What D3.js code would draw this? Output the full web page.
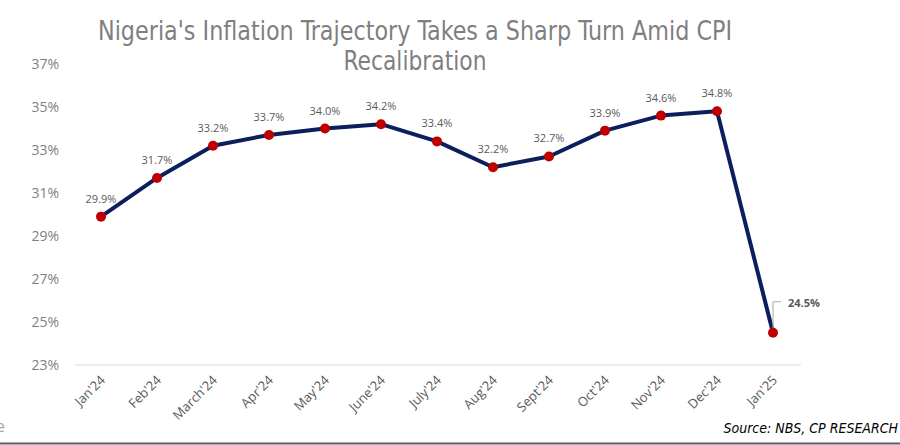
<!DOCTYPE html>
<html>
<head>
<meta charset="utf-8">
<script src="https://cdn.jsdelivr.net/npm/d3@7"></script>
<style>
  body { margin: 0; background: #fff; }
  text { font-family: "Open Sans", "Noto Sans", sans-serif; }
</style>
</head>
<body>
<svg width="900" height="445"></svg>
<script>
// data
var months = ["Jan'24", "Feb'24", "March'24", "Apr'24", "May'24", "June'24", "July'24",
              "Aug'24", "Sept'24", "Oct'24", "Nov'24", "Dec'24", "Jan'25"];
var inflation = [29.9, 31.7, 33.2, 33.7, 34.0, 34.2, 33.4, 32.2, 32.7, 33.9, 34.6, 34.8, 24.5];
var yTicks = [23, 25, 27, 29, 31, 33, 35, 37];

var svg = d3.select("svg");
var margin = {top: 64, right: 99, bottom: 80, left: 73};
var width = 900 - margin.left - margin.right;

var x = d3.scaleBand().domain(months).range([margin.left, margin.left + width]);
var y = d3.scaleLinear().domain([23, 37]).range([365, 64]);
var cx = function(d) { return x(d.m) + x.bandwidth() / 2; };

var narrow = "'Liberation Sans Narrow', 'DejaVu Sans Condensed', sans-serif";

// title
svg.append("text")
  .attr("x", 415).attr("y", 40)
  .attr("text-anchor", "middle")
  .attr("fill", "#7f7f7f")
  .style("font-family", narrow)
  .style("font-size", "26px")
  .attr("textLength", 634).attr("lengthAdjust", "spacingAndGlyphs")
  .text("Nigeria's Inflation Trajectory Takes a Sharp Turn Amid CPI");
svg.append("text")
  .attr("x", 415).attr("y", 70)
  .attr("text-anchor", "middle")
  .attr("fill", "#7f7f7f")
  .style("font-family", narrow)
  .style("font-size", "26px")
  .attr("textLength", 143).attr("lengthAdjust", "spacingAndGlyphs")
  .text("Recalibration");

// y axis labels (no axis line)
svg.selectAll("text.ytick").data(yTicks).enter().append("text")
  .attr("class", "ytick")
  .attr("x", 59).attr("y", function(d) { return y(d) + 5; })
  .attr("text-anchor", "end")
  .attr("fill", "#7f7f7f")
  .style("font-size", "14px")
  .text(function(d) { return d + "%"; });

// baseline
svg.append("line")
  .attr("x1", margin.left + 2).attr("x2", margin.left + width)
  .attr("y1", y(23)).attr("y2", y(23))
  .attr("stroke", "#d9d9d9").attr("stroke-width", 1);

// x labels rotated
svg.selectAll("text.xtick").data(months).enter().append("text")
  .attr("class", "xtick")
  .attr("text-anchor", "end")
  .attr("transform", function(d) {
    return "translate(" + (x(d) + x.bandwidth() / 2 + 5) + "," + 381 + ") rotate(-45)";
  })
  .attr("fill", "#595959")
  .style("font-size", "13px")
  .text(function(d) { return d; });

var pts = months.map(function(m, i) { return {m: m, v: inflation[i]}; });

// line
var line = d3.line().x(cx).y(function(d) { return y(d.v); });
svg.append("path")
  .datum(pts)
  .attr("d", line)
  .attr("fill", "none")
  .attr("stroke", "#0c1f5c")
  .attr("stroke-width", 4)
  .attr("stroke-linejoin", "round");

// leader line for last point
var last = pts[pts.length - 1];
var lx = cx(last), ly = y(last.v);
svg.append("path")
  .attr("d", "M" + lx + "," + (ly - 4) + "V" + (ly - 31) + "H" + (lx + 8))
  .attr("fill", "none").attr("stroke", "#a6a6a6").attr("stroke-width", 1);

// markers
svg.selectAll("circle").data(pts).enter().append("circle")
  .attr("cx", cx)
  .attr("cy", function(d) { return y(d.v); })
  .attr("r", 5)
  .attr("fill", "#c00000");

// data labels
svg.selectAll("text.lbl").data(pts.slice(0, -1)).enter().append("text")
  .attr("class", "lbl")
  .attr("x", cx)
  .attr("y", function(d) { return y(d.v) - 14; })
  .attr("text-anchor", "middle")
  .attr("fill", "#595959")
  .style("font-size", "11px")
  .text(function(d) { return d.v.toFixed(1) + "%"; });

svg.append("text")
  .attr("x", lx + 15).attr("y", ly - 26)
  .attr("fill", "#595959")
  .style("font-size", "11px")
  .style("font-weight", "bold")
  .text(last.v.toFixed(1) + "%");

// source
svg.append("text")
  .attr("x", 898).attr("y", 433)
  .attr("text-anchor", "end")
  .attr("fill", "#000")
  .style("font-family", narrow)
  .style("font-style", "italic")
  .style("font-size", "14px")
  .text("Source: NBS, CP RESEARCH");

// cut-off text fragment at the left edge, as in the reference
svg.append("text")
  .attr("x", -4).attr("y", 432)
  .attr("fill", "#a6a6a6")
  .style("font-size", "16px")
  .text("e");

// bottom border
svg.append("line")
  .attr("x1", 0).attr("x2", 900)
  .attr("y1", 443.5).attr("y2", 443.5)
  .attr("stroke", "#5a5f6e").attr("stroke-width", 2);
</script>
</body>
</html>
